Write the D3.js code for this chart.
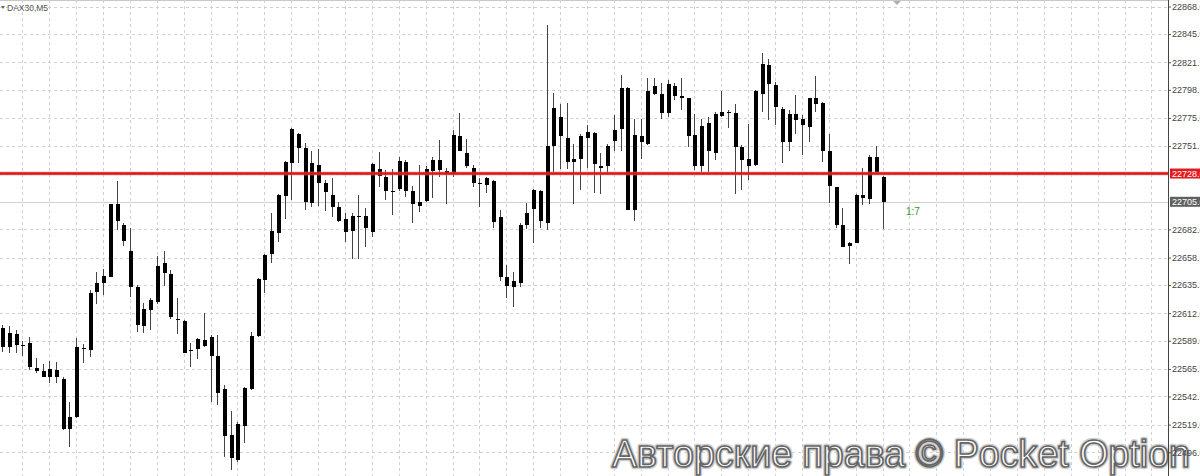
<!DOCTYPE html>
<html><head><meta charset="utf-8">
<script src="https://cdn.jsdelivr.net/npm/d3@7/dist/d3.min.js"></script>
<style>
html,body{margin:0;padding:0;background:#fff;overflow:hidden}
svg{display:block}
</style></head>
<body>
<svg id="chart" width="1200" height="476"></svg>
<script>
// ---- data (DAX30, M5) ----
const symbolLabel = "DAX30,M5";
const openVals = [22600,22584,22595,22585.5,22587,22566,22563.5,22558.5,22564.5,22557.5,
22515,22525,22583,22581.5,22630,22637,22642.5,22703,22686,22664,
22633.5,22601.5,22614.5,22621,22645.5,22644.5,22607,22605.5,22580.5,22582,
22589.5,22592.5,22576.5,22548.5,22510,22489.5,22518,22548.5,22593,22640,
22661.5,22679,22710,22737.5,22761.5,22749.5,22704,22735.5,22720.5,22711,
22701,22690.5,22681,22693,22693,22679.5,22732.5,22725.5,22714,22715.5,
22738.5,22714,22705,22706,22731,22739.5,22731,22728,22760,22746,
22733.5,22721,22719,22722.5,22692.5,22642,22633.5,22637.5,22685.5,22699,
22714,22687,22751.5,22776,22758,22738.5,22740.5,22758,22762.5,22735,
22734.5,22756,22765.5,22800,22698,22760,22753,22795,22795,22779,
22802,22793.5,22791.5,22760.5,22735,22771,22746,22776.5,22780,22779,
22751,22740.5,22735.5,22795,22819.5,22802.5,22782.5,22755,22778,22774,
22767.5,22791.5,22787.5,22747.5,22717,22685.5,22668,22671,22710.5,22707,
22742,22726];
const highVals = [22602,22601.5,22598,22589,22592.5,22575,22570,22572.5,22571.5,22559,
22537.5,22591,22586.5,22631,22646,22648.5,22703.5,22722.5,22687,22683.5,
22635.5,22620.5,22624.5,22659.5,22664,22648,22624.5,22606.5,22587,22591,
22612.5,22593.5,22594,22552,22530,22521.5,22550.5,22596.5,22641,22661.5,
22695.5,22711.5,22739,22767,22762.5,22754,22747,22749,22723.5,22724.5,
22705,22695.5,22695.5,22711,22699.5,22737,22746.5,22731.5,22732.5,22742.5,
22740,22718,22735.5,22734.5,22742.5,22756.5,22733,22765,22779,22757,
22735.5,22725,22726,22723,22698.5,22652,22646,22687,22704,22715.5,
22715,22852.5,22795.5,22786.5,22787.5,22753,22762,22769,22763.5,22746,
22753,22777.5,22811,22801,22774,22774,22808,22808,22804.5,22806.5,
22804,22808,22792,22778,22774,22776,22780,22797.5,22781.5,22787,
22752.5,22770,22798.5,22829,22824.5,22805,22784.5,22782,22794,22777.5,
22792,22810,22788.5,22762,22717.5,22699.5,22671.5,22711.5,22733,22744,
22751.5,22726.5];
const lowVals = [22580,22578.5,22579,22576,22564.5,22562.5,22558.5,22553.5,22553.5,22514.5,
22500.5,22524.5,22570.5,22575.5,22619.5,22627,22642,22681.5,22668,22625.5,
22596.5,22595.5,22598,22620,22634.5,22607.5,22594.5,22578.5,22567,22574,
22584,22538,22535.5,22492,22481,22488,22504,22548,22592.5,22629,
22654,22671.5,22691,22706.5,22737,22698,22700.5,22701.5,22697.5,22692,
22688.5,22671.5,22657.5,22657,22667,22675.5,22717,22706.5,22694,22714,
22709,22687.5,22696.5,22705,22708,22726,22703,22725.5,22747,22733,
22717.5,22701,22712.5,22683,22638.5,22624.5,22617.5,22634,22682,22671,
22683.5,22681.5,22730,22732,22732,22703.5,22715,22733,22712,22711.5,
22729,22747,22747,22698,22689,22740.5,22752.5,22794,22774.5,22775.5,
22790,22782,22751,22731.5,22730,22730,22740,22775.5,22767,22711.5,
22715,22723,22735,22780,22773,22769,22737,22747,22762,22744,
22754.5,22780,22738.5,22704,22683,22667,22653,22671.5,22702.5,22703,
22728.5,22682];
const closeVals = [22584,22595.5,22585.5,22585,22567,22564,22559,22565.5,22559,22515.5,
22525.5,22583.5,22582.5,22629,22637,22643,22703,22689,22672.5,22633.5,
22602,22615.5,22623,22651.5,22654,22608.5,22607,22579,22581,22590.5,
22584.5,22576,22545,22509.5,22491,22519.5,22549.5,22593,22640.5,22660.5,
22681,22711,22738.5,22765.5,22749.5,22705,22737.5,22721,22713.5,22700.5,
22689,22680,22693.5,22693,22683,22736.5,22726.5,22714,22714,22739,
22714,22703.5,22701.5,22732,22740,22731.5,22729,22760.5,22747.5,22735,
22721,22721,22725,22688.5,22642.5,22634.5,22638.5,22686,22696,22715,
22689,22751.5,22783,22760,22738,22740.5,22760,22763,22736.5,22733,
22751.5,22765,22800,22698.5,22760.5,22755,22797.5,22802,22779,22803.5,
22793.5,22792,22759.5,22735,22768,22747.5,22778,22780,22779,22751,
22739.5,22735,22797.5,22820,22803.5,22784,22755,22778,22773,22769.5,
22791.5,22787,22747,22718,22685.5,22667.5,22671,22710.5,22708.5,22742,
22730,22705];
const priceTicks = [22868.0,22845.0,22821.5,22798.5,22775.0,22751.5,22728.5,22705.0,22682.0,22658.5,22635.5,22612.0,22589.0,22565.5,22542.5,22519.0,22496.0];
const levelPrice = 22728.6;   // red horizontal level
const bidPrice = 22705.0;     // current price
const ratioText = "1:7";
const watermark = "Авторские права © Pocket Option";

// ---- layout ----
const W = 1200, H = 476, axisX = 1168;
const svg = d3.select("#chart");
const y = d3.scaleLinear().domain([22496, 22868]).range([452.2, 6.5]);
const x = d3.scaleLinear().domain([0, 171]).range([2.3, 2.3 + 171 * 6.72]);
const FONT = "Liberation Sans, Arial, sans-serif";

const candles = openVals.map((o, i) => ({i, o, h: highVals[i], l: lowVals[i], c: closeVals[i]}));

// top border
svg.append("line").attr("x1", 0).attr("x2", axisX).attr("y1", 0.5).attr("y2", 0.5)
  .attr("stroke", "#c8c8c8");

// grid
const grid = svg.append("g").attr("stroke", "#d0d0d0").attr("stroke-dasharray", "3,3").attr("shape-rendering", "crispEdges");
priceTicks.forEach(p => {
  const yy = Math.round(y(p)) + 0.5;
  grid.append("line").attr("x1", 0).attr("x2", axisX).attr("y1", yy).attr("y2", yy);
});
d3.range(3, 172, 4).forEach(i => {
  const xx = Math.round(x(i)) + 0.5;
  grid.append("line").attr("x1", xx).attr("x2", xx).attr("y1", 0).attr("y2", H);
});

// bid line
const bidY = Math.round(y(bidPrice)) + 0.5;
svg.append("line").attr("x1", 0).attr("x2", axisX).attr("y1", bidY).attr("y2", bidY)
  .attr("stroke", "#cfcfcf").attr("shape-rendering", "crispEdges");

// watermark (behind candles)
const wm = svg.append("g");
wm.append("text").attr("x", 612).attr("y", 467).text(watermark)
  .attr("font-family", FONT).attr("font-size", 38)
  .attr("textLength", 578).attr("lengthAdjust", "spacingAndGlyphs")
  .attr("fill", "none").attr("stroke", "#d0d0d0").attr("stroke-width", 4.5).attr("stroke-linejoin", "round");
wm.append("text").attr("x", 612).attr("y", 467).text(watermark)
  .attr("font-family", FONT).attr("font-size", 38)
  .attr("textLength", 578).attr("lengthAdjust", "spacingAndGlyphs")
  .attr("fill", "#ffffff").attr("stroke", "#666").attr("stroke-width", 1.7).attr("stroke-linejoin", "round");

// candles
const cg = svg.append("g").attr("shape-rendering", "crispEdges");
candles.forEach(d => {
  const cx = Math.round(x(d.i));
  cg.append("line").attr("x1", cx + 0.5).attr("x2", cx + 0.5)
    .attr("y1", y(d.h)).attr("y2", y(d.l)).attr("stroke", "#444").attr("stroke-width", 1);
  const top = y(Math.max(d.o, d.c)), bot = y(Math.min(d.o, d.c));
  cg.append("rect").attr("x", cx - 1.5).attr("width", 4)
    .attr("y", top).attr("height", Math.max(1, bot - top)).attr("fill", "#000");
});

// red level line
svg.append("line").attr("x1", 0).attr("x2", axisX).attr("y1", y(levelPrice)).attr("y2", y(levelPrice))
  .attr("stroke", "#f08080").attr("stroke-width", 4).attr("opacity", 0.5);
svg.append("line").attr("x1", 0).attr("x2", axisX).attr("y1", y(levelPrice)).attr("y2", y(levelPrice))
  .attr("stroke", "#d81818").attr("stroke-width", 2.4);

// ratio text
svg.append("text").attr("x", 906).attr("y", 215).text(ratioText)
  .attr("font-family", FONT).attr("font-size", 10).attr("fill", "#2f962f");

// right axis (labels run off the right edge, as in the reference)
const axis = d3.axisRight(y)
  .tickValues(priceTicks.filter(p => p !== 22728.5 && p !== 22705.0))
  .tickSize(3).tickPadding(1).tickFormat(d3.format(".1f"));
const ag = svg.append("g").attr("transform", `translate(${axisX},0)`).call(axis);
ag.select(".domain").remove();
ag.selectAll(".tick line").attr("stroke", "#555");
ag.selectAll(".tick text").attr("font-family", FONT).attr("font-size", 9).attr("fill", "#444");
svg.append("line").attr("x1", axisX + 0.5).attr("x2", axisX + 0.5).attr("y1", 0).attr("y2", H)
  .attr("stroke", "#444").attr("shape-rendering", "crispEdges");

// price labels on axis
function priceTag(p, bg, label) {
  const yy = y(p);
  svg.append("rect").attr("x", axisX + 2).attr("y", yy - 5).attr("width", W - axisX - 2).attr("height", 10).attr("fill", bg);
  svg.append("text").attr("x", axisX + 4).attr("y", yy + 3.3).text(label)
    .attr("font-family", FONT).attr("font-size", 9).attr("fill", "#fff");
}
priceTag(levelPrice, "#e41b1b", d3.format(".1f")(levelPrice));
priceTag(bidPrice, "#5f5f5f", d3.format(".1f")(bidPrice));

// title
svg.append("path").attr("d", "M1,6 L5,6 L3,9 Z").attr("fill", "#666");
svg.append("text").attr("x", 7).attr("y", 11).text(symbolLabel)
  .attr("font-family", FONT).attr("font-size", 8.5).attr("fill", "#555");
// shift marker
svg.append("path").attr("d", "M893,1 L901,1 L897,5 Z").attr("fill", "#b0b0b0");
</script>
</body></html>
